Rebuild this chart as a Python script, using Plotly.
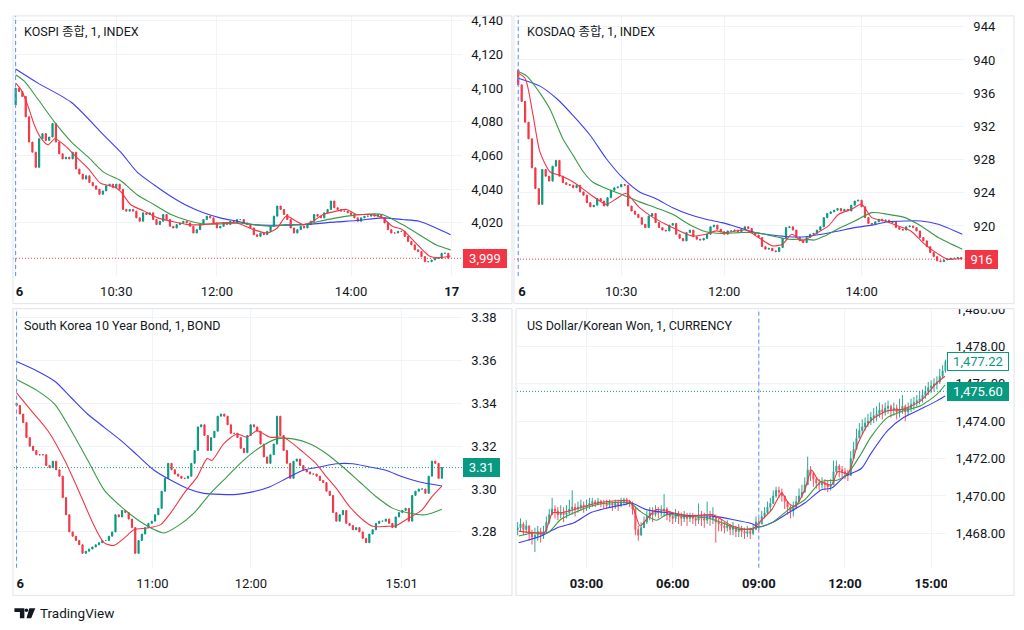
import plotly.graph_objects as go

W, H = 1024, 630
TXT = '#131722'
GRID = '#f0f3fa'
BORDER = '#e0e3eb'
UP = '#089981'
DOWN = '#f23645'
MA_FAST = '#f23645'
MA_MID = '#3a9a45'
MA_SLOW = '#3d3df5'
FONT = "Roboto, 'Noto Sans CJK KR', sans-serif"

# ---------------- KOSPI (3-minute bars, minutes after 09:00) ----------------
kospi_title = "KOSPI 종합, 1, INDEX"
kospi_bar_min = 3
kospi_first_open = 4090
kospi_close = [4100, 4098, 4095, 4083, 4068, 4062, 4053, 4070, 4073, 4069,
               4071, 4079, 4068, 4061, 4058, 4059, 4058, 4062, 4052, 4049,
               4046, 4048, 4044, 4042, 4040, 4037, 4039, 4042, 4043, 4041,
               4043, 4040, 4028, 4027, 4028, 4027, 4023, 4021, 4026, 4025,
               4026, 4022, 4019, 4021, 4025, 4022, 4018, 4017, 4019, 4020,
               4021, 4020, 4018, 4014, 4016, 4019, 4022, 4024, 4023, 4020,
               4017, 4018, 4020, 4019, 4021, 4020, 4022, 4022, 4020, 4019,
               4017, 4013, 4012, 4014, 4013, 4015, 4018, 4024, 4030, 4028,
               4025, 4022, 4017, 4014, 4016, 4018, 4017, 4019, 4021, 4025,
               4024, 4023, 4026, 4028, 4033, 4029, 4028, 4027, 4027, 4026,
               4025, 4023, 4021, 4023, 4024, 4024, 4025, 4024, 4025, 4023,
               4020, 4016, 4014, 4014, 4015, 4015, 4012, 4009, 4007, 4004,
               4003, 4000, 3997, 3997, 3998, 3999, 3999, 4002, 4002, 3999]
kospi_fast_t = [0, 5, 11, 17, 23, 29, 35, 44, 53, 65, 76, 88, 94, 103, 115, 127, 139, 154, 168, 183,
                198, 213, 225, 234, 242, 251, 257, 266, 275, 287, 296, 305, 317, 328, 337, 346, 358, 370, 379, 389]
kospi_fast = [4103, 4099, 4089.5, 4077.7, 4070, 4066.4, 4070, 4066, 4060, 4052.3,
              4043.5, 4041.5, 4038.6, 4030.8, 4027, 4023, 4021, 4019, 4019, 4020,
              4020, 4016, 4014, 4017, 4024, 4021, 4019, 4021, 4025, 4027,
              4028, 4025, 4025, 4023, 4018, 4016, 4008, 4000.4, 3999.4, 4000.4]
kospi_mid_t = [0, 8, 20, 35, 50, 65, 79, 94, 109, 124, 139, 154, 168, 183, 198, 213, 228, 242, 257, 272,
               287, 302, 316, 328, 346, 361, 376, 389]
kospi_mid = [4108, 4104, 4093.4, 4079.7, 4068, 4059, 4050, 4045, 4036.6, 4030.8,
             4025, 4021.4, 4019.4, 4019.4, 4020, 4019, 4018, 4019, 4019, 4021,
             4023, 4024.5, 4025.3, 4025, 4019, 4013, 4007, 4004]
kospi_slow_t = [0, 20, 50, 79, 94, 109, 124, 139, 154, 168, 183, 198, 213, 228, 257, 287, 305, 328, 346, 361, 376, 389]
kospi_slow = [4111.4, 4103, 4091.5, 4072, 4062, 4050, 4042.5, 4035.7, 4030, 4026, 4023,
              4021, 4019, 4018.6, 4019, 4020.6, 4021.4, 4023, 4022, 4021, 4017, 4013]
kospi_xtick_vals = [0, 90, 180, 300, 390]
kospi_xtick_text = ['<b>16</b>', '10:30', '12:00', '14:00', '<b>17</b>']
kospi_ytick_vals = [4020, 4040, 4060, 4080, 4100, 4120, 4140]
kospi_last = 3999
kospi_last_text = '3,999'

# ---------------- KOSDAQ ----------------
kosdaq_title = "KOSDAQ 종합, 1, INDEX"
kosdaq_bar_min = 3
kosdaq_first_open = 938.8
kosdaq_close = [937.0, 935.0, 932.5, 930.5, 927.0, 924.5, 922.6, 926.8, 926.0, 925.4,
                927.2, 927.9, 926.0, 925.2, 925.0, 924.9, 924.6, 924.9, 924.1, 923.7,
                922.8, 922.3, 922.5, 923.3, 923.0, 922.4, 923.4, 924.3, 924.6, 924.7,
                925.0, 924.9, 922.4, 921.8, 921.4, 921.0, 920.2, 919.8, 921.2, 921.5,
                920.4, 919.8, 919.5, 919.4, 920.1, 920.3, 919.0, 918.5, 918.2, 919.2,
                919.5, 918.7, 918.4, 918.3, 918.5, 919.0, 919.9, 920.1, 919.6, 919.3,
                919.0, 919.4, 919.4, 919.5, 919.3, 919.6, 919.9, 919.7, 919.2, 918.9,
                918.6, 917.5, 917.2, 917.3, 917.0, 916.9, 917.4, 918.5, 919.8, 919.9,
                919.5, 918.6, 918.2, 918.0, 918.6, 919.0, 919.1, 919.5, 919.9, 921.0,
                921.5, 921.7, 921.9, 922.1, 921.8, 922.0, 921.8, 922.5, 923.0, 923.1,
                922.3, 921.0, 920.3, 920.2, 920.5, 920.8, 920.6, 920.7, 920.4, 920.5,
                919.8, 919.6, 919.5, 919.9, 920.0, 919.8, 919.4, 918.6, 918.2, 917.5,
                916.8, 916.3, 915.8, 915.7, 915.9, 916.0, 916.1, 916.1, 916.2, 916.0]
kosdaq_fast_t = [0, 6, 13, 19, 28, 36, 48, 60, 68, 77, 86, 94, 106, 118, 129, 141, 152, 164, 173, 181,
                 199, 210, 222, 231, 239, 248, 259, 271, 280, 291, 300, 309, 320, 332, 343, 355, 367, 375, 388]
kosdaq_fast = [938.4, 937.8, 933.3, 928.9, 926.5, 926.1, 925.3, 924.1, 923.3, 922.6,
               923.3, 923.9, 922.2, 921.0, 920.2, 919.4, 918.8, 919.0, 919.4, 919.2,
               919.5, 918.6, 917.6, 917.8, 919.0, 918.2, 919.0, 920.0, 921.4, 922.0,
               922.6, 921.0, 920.6, 920.0, 919.4, 917.8, 916.6, 916.0, 916.1]
kosdaq_mid_t = [0, 8, 19, 28, 39, 48, 57, 65, 77, 92, 106, 120, 135, 149, 164, 178, 193, 207, 222, 236,
                251, 259, 268, 280, 294, 309, 323, 338, 352, 367, 388]
kosdaq_mid = [938.6, 938.0, 936.0, 934.0, 930.5, 928.5, 926.5, 925.3, 924.5, 923.7,
              922.9, 922.2, 921.4, 920.2, 919.3, 919.1, 919.2, 919.2, 918.8, 918.4,
              918.4, 918.3, 918.8, 919.7, 920.6, 921.6, 921.4, 921.0, 920.0, 918.6, 917.2]
kosdaq_slow_t = [0, 19, 34, 48, 63, 77, 92, 106, 120, 135, 149, 164, 178, 193, 207, 222, 236, 251, 265, 280,
                 294, 309, 323, 338, 352, 367, 388]
kosdaq_slow = [937.8, 936.85, 935.3, 933.3, 930.9, 928.1, 925.7, 924.1, 923.3, 922.2,
               921.4, 920.8, 920.4, 919.8, 919.2, 918.9, 918.7, 918.7, 919.0, 919.4,
               919.8, 920.1, 920.5, 920.6, 920.6, 920.2, 919.0]
kosdaq_xtick_vals = [0, 90, 180, 300]
kosdaq_xtick_text = ['<b>16</b>', '10:30', '12:00', '14:00']
kosdaq_ytick_vals = [920, 924, 928, 932, 936, 940, 944]
kosdaq_last = 916
kosdaq_last_text = '916'

# ---------------- South Korea 10Y bond (bar index) ----------------
bond_title = "South Korea 10 Year Bond, 1, BOND"
bond_first_open = 3.340
bond_close = [3.339, 3.335, 3.331, 3.324, 3.320, 3.318, 3.316, 3.316, 3.316, 3.311,
              3.310, 3.313, 3.309, 3.306, 3.296, 3.288, 3.280, 3.278, 3.276, 3.274,
              3.270, 3.271, 3.272, 3.273, 3.274, 3.275, 3.276, 3.276, 3.278, 3.280,
              3.288, 3.287, 3.290, 3.289, 3.286, 3.282, 3.270, 3.276, 3.279, 3.282,
              3.284, 3.285, 3.288, 3.291, 3.299, 3.305, 3.312, 3.309, 3.307, 3.306,
              3.305, 3.305, 3.306, 3.312, 3.318, 3.329, 3.330, 3.325, 3.318, 3.324,
              3.327, 3.334, 3.335, 3.334, 3.330, 3.326, 3.326, 3.324, 3.319, 3.317,
              3.325, 3.330, 3.329, 3.327, 3.321, 3.315, 3.312, 3.316, 3.321, 3.334,
              3.325, 3.318, 3.312, 3.305, 3.313, 3.314, 3.311, 3.309, 3.308, 3.307,
              3.307, 3.306, 3.304, 3.303, 3.299, 3.297, 3.289, 3.285, 3.288, 3.290,
              3.284, 3.283, 3.281, 3.282, 3.280, 3.277, 3.275, 3.279, 3.281, 3.284,
              3.285, 3.285, 3.286, 3.284, 3.282, 3.287, 3.289, 3.290, 3.291, 3.285,
              3.297, 3.299, 3.300, 3.300, 3.298, 3.306, 3.313, 3.312, 3.305, 3.310]
bond_fast_i = [0, 4.5, 9.5, 14.6, 19.6, 23.6, 26.6, 29.6, 32.7, 35.7, 39.7, 43.7, 46.7, 50.8, 54.8, 57.8, 59.3,
               62.8, 66.8, 69.8, 72.9, 76.9, 80.9, 83.9, 86.9, 90.9, 94, 97, 101, 105, 108, 112, 115, 119, 123, 126, 129]
bond_fast = [3.3449, 3.3365, 3.3272, 3.3134, 3.2965, 3.2826, 3.2749, 3.2737, 3.2772, 3.2811,
             3.2818, 3.2834, 3.2888, 3.298, 3.3057, 3.3142, 3.3134, 3.3211, 3.3257, 3.3242,
             3.3272, 3.3242, 3.3242, 3.3211, 3.3172, 3.3118, 3.3057, 3.3003, 3.2918, 3.2857,
             3.2826, 3.2826, 3.2829, 3.2865, 3.2903, 3.2965, 3.3014]
bond_mid_i = [0, 6.5, 11.6, 16.6, 21.6, 26.6, 31.7, 36.7, 41.7, 44.7, 48.7, 53.8, 58.8, 63.8, 68.8, 73.9,
              78.9, 83.9, 88.9, 94, 99, 104, 109, 114, 119, 124, 129]
bond_mid = [3.3511, 3.3457, 3.3395, 3.3272, 3.3134, 3.2995, 3.2918, 3.2857, 3.2811, 3.2795,
            3.2826, 3.2888, 3.298, 3.3057, 3.3134, 3.3195, 3.3234, 3.3234, 3.3211, 3.3165,
            3.3103, 3.3034, 3.2965, 3.2911, 3.2888, 3.288, 3.2906]
bond_slow_i = [0, 6.5, 11.6, 16.6, 21.6, 26.6, 31.7, 36.7, 41.7, 46.7, 51.8, 56.8, 61.8, 66.8, 71.9, 76.9,
               81.9, 86.9, 92, 97, 102, 107, 112, 117, 122, 129]
bond_slow = [3.3595, 3.3549, 3.3503, 3.3426, 3.3349, 3.3288, 3.3226, 3.3157, 3.3088, 3.3042,
             3.3003, 3.298, 3.2975, 3.2975, 3.2988, 3.3011, 3.305, 3.3088, 3.3103, 3.3118,
             3.3118, 3.3103, 3.3088, 3.3057, 3.3034, 3.3014]
bond_xtick_vals = [0, 41.2, 71.1, 116.8]
bond_xtick_text = ['<b>16</b>', '11:00', '12:00', '15:01']
bond_ytick_vals = [3.28, 3.30, 3.32, 3.34, 3.36, 3.38]
bond_last = 3.31
bond_last_text = '3.31'

# ---------------- USD/KRW (6-minute bars, minutes after 00:00) ----------------
usd_title = "US Dollar/Korean Won, 1, CURRENCY"
usd_start_min = 36
usd_bar_min = 6
usd_first_open = 1468.2
usd_close = [1468.3, 1468.5, 1468.2, 1468.4, 1468.0, 1467.8, 1467.9, 1468.1, 1467.9, 1468.1,
             1468.6, 1469.0, 1469.3, 1469.2, 1469.0, 1469.1, 1469.0, 1469.1, 1469.3, 1469.4,
             1469.3, 1469.4, 1469.5, 1469.4, 1469.5, 1469.6, 1469.7, 1469.6, 1469.7, 1469.6,
             1469.6, 1469.5, 1469.6, 1469.5, 1469.6, 1469.5, 1469.7, 1469.8, 1469.7, 1469.6,
             1469.3, 1468.2, 1467.9, 1468.3, 1468.6, 1468.9, 1469.1, 1469.0, 1469.2, 1469.1,
             1469.2, 1469.3, 1469.0, 1468.9, 1468.8, 1469.0, 1468.9, 1468.8, 1468.9, 1468.8,
             1468.9, 1468.8, 1468.7, 1468.9, 1468.8, 1468.7, 1468.9, 1468.8, 1468.9, 1468.6,
             1468.5, 1468.4, 1468.3, 1468.4, 1468.2, 1468.3, 1468.1, 1468.2, 1468.1, 1468.0,
             1468.1, 1468.0, 1468.2, 1468.6, 1468.5, 1468.9, 1469.1, 1469.4, 1469.6, 1470.0,
             1470.3, 1470.2, 1470.0, 1469.7, 1469.4, 1469.2, 1469.4, 1469.7, 1470.0, 1470.2,
             1470.6, 1471.4, 1471.2, 1470.9, 1470.7, 1470.6, 1470.7, 1470.6, 1470.5, 1470.6,
             1471.3, 1471.6, 1471.4, 1471.3, 1471.2, 1471.1, 1472.0, 1472.5, 1473.1, 1473.5,
             1473.7, 1473.9, 1474.0, 1474.2, 1474.3, 1474.4, 1474.6, 1474.5, 1474.7, 1474.8,
             1474.6, 1474.7, 1474.5, 1474.6, 1474.8, 1474.5, 1474.7, 1474.9, 1475.0, 1475.1,
             1475.2, 1475.4, 1475.6, 1475.8, 1475.9, 1476.0, 1476.1, 1476.4, 1476.7, 1477.2]
usd_high = [1468.6, 1468.8, 1468.6, 1468.7, 1468.4, 1468.2, 1468.3, 1468.4, 1468.3, 1468.4,
            1468.9, 1469.3, 1469.9, 1469.5, 1469.4, 1469.5, 1469.4, 1469.5, 1469.8, 1470.3,
            1469.6, 1469.7, 1469.8, 1469.7, 1469.8, 1469.9, 1469.9, 1469.8, 1469.9, 1469.8,
            1469.8, 1469.8, 1469.8, 1469.7, 1469.8, 1469.8, 1469.9, 1469.9, 1469.9, 1469.8,
            1469.7, 1469.4, 1468.4, 1468.6, 1468.9, 1469.2, 1469.4, 1469.4, 1469.5, 1469.4,
            1469.5, 1470.1, 1469.4, 1469.2, 1469.1, 1469.3, 1469.2, 1469.1, 1469.2, 1469.1,
            1469.1, 1469.1, 1469.0, 1469.6, 1469.2, 1469.1, 1469.7, 1469.2, 1469.4, 1469.0,
            1468.8, 1468.7, 1468.6, 1468.7, 1468.5, 1468.6, 1468.4, 1468.5, 1468.4, 1468.3,
            1468.4, 1468.3, 1468.5, 1468.9, 1468.8, 1469.2, 1469.4, 1469.7, 1469.9, 1470.3,
            1470.5, 1470.5, 1470.4, 1470.0, 1469.7, 1469.5, 1469.7, 1470.0, 1470.4, 1470.6,
            1471.0, 1472.1, 1471.6, 1471.3, 1471.0, 1470.9, 1471.0, 1470.9, 1470.8, 1470.9,
            1471.9, 1471.9, 1471.7, 1471.6, 1471.5, 1471.4, 1472.4, 1472.9, 1473.6, 1473.9,
            1474.1, 1474.2, 1474.4, 1474.5, 1474.7, 1474.8, 1475.0, 1474.9, 1475.0, 1475.1,
            1474.9, 1475.0, 1474.9, 1475.2, 1475.4, 1474.9, 1475.0, 1475.2, 1475.3, 1475.4,
            1475.6, 1475.7, 1475.9, 1476.1, 1476.2, 1476.3, 1476.4, 1476.8, 1477.0, 1477.3]
usd_low = [1467.9, 1468.1, 1467.9, 1468.0, 1467.6, 1467.4, 1467.0, 1467.6, 1467.5, 1467.7,
           1468.0, 1468.5, 1469.0, 1468.8, 1468.7, 1468.8, 1468.6, 1468.8, 1469.0, 1469.0,
           1468.9, 1469.1, 1469.2, 1469.1, 1469.2, 1469.3, 1469.4, 1469.4, 1469.5, 1469.4,
           1469.3, 1469.3, 1469.4, 1469.2, 1469.3, 1469.2, 1469.4, 1469.5, 1469.5, 1469.4,
           1469.0, 1467.9, 1467.6, 1467.9, 1468.3, 1468.5, 1468.7, 1468.6, 1468.9, 1468.8,
           1468.9, 1468.9, 1468.7, 1468.6, 1468.5, 1468.6, 1468.5, 1468.4, 1468.6, 1468.4,
           1468.6, 1468.5, 1468.4, 1468.5, 1468.4, 1468.3, 1468.5, 1468.4, 1468.5, 1467.5,
           1468.1, 1468.1, 1468.0, 1468.1, 1467.9, 1467.9, 1467.8, 1467.8, 1467.8, 1467.7,
           1467.8, 1467.7, 1467.9, 1468.2, 1468.2, 1468.5, 1468.8, 1469.0, 1469.2, 1469.6,
           1469.9, 1469.9, 1469.7, 1469.3, 1469.0, 1468.8, 1468.9, 1469.3, 1469.7, 1469.9,
           1470.2, 1470.9, 1470.8, 1470.5, 1470.4, 1470.3, 1470.4, 1470.3, 1470.2, 1470.3,
           1470.9, 1471.2, 1471.0, 1471.0, 1470.9, 1470.8, 1471.4, 1472.0, 1472.7, 1473.1,
           1473.3, 1473.5, 1473.7, 1473.8, 1473.9, 1474.0, 1474.2, 1474.1, 1474.3, 1474.4,
           1474.2, 1474.3, 1474.1, 1474.2, 1474.4, 1474.0, 1474.3, 1474.5, 1474.6, 1474.8,
           1474.9, 1475.0, 1475.2, 1475.4, 1475.5, 1475.6, 1475.7, 1476.0, 1476.3, 1476.6]
usd_fast_t = [38, 71, 92, 109, 126, 154, 188, 223, 271, 281, 292, 305, 326, 361, 395, 443, 485, 526, 540, 567,
              588, 602, 616, 636, 650, 664, 692, 705, 726, 747, 774, 809, 843, 878, 912, 929]
usd_fast = [1468.12, 1468.03, 1468.03, 1469.1, 1469.1, 1469.27, 1469.53, 1469.7, 1469.7, 1469.1,
            1468.39, 1468.74, 1469.27, 1469.1, 1468.92, 1469.0, 1468.39, 1468.21, 1468.56, 1469.27,
            1470.15, 1469.62, 1469.45, 1470.33, 1471.39, 1470.86, 1470.6, 1471.3, 1471.21, 1472.8,
            1474.03, 1474.56, 1474.65, 1475.09, 1476.06, 1476.41]
usd_mid_t = [38, 71, 99, 126, 154, 188, 223, 271, 292, 326, 347, 381, 430, 464, 499, 533, 567, 602, 636, 671,
             705, 726, 754, 774, 809, 843, 878, 912, 929]
usd_mid = [1467.86, 1468.03, 1468.03, 1468.74, 1469.1, 1469.45, 1469.62, 1469.62, 1469.18, 1468.7,
           1469.0, 1468.92, 1468.83, 1468.56, 1468.21, 1468.3, 1468.56, 1469.27, 1469.8, 1470.77,
           1470.86, 1471.21, 1472.27, 1473.15, 1474.21, 1474.56, 1474.83, 1475.44, 1475.94]
usd_slow_t = [38, 85, 119, 154, 188, 223, 257, 274, 305, 347, 395, 443, 485, 526, 540, 567, 602, 636, 671, 692,
              719, 754, 774, 809, 843, 878, 912, 929]
usd_slow = [1467.5, 1467.86, 1468.3, 1468.56, 1469.1, 1469.36, 1469.53, 1469.62, 1469.27, 1469.1,
            1468.95, 1468.92, 1468.74, 1468.51, 1468.34, 1468.56, 1469.1, 1469.62, 1470.33, 1470.42,
            1471.03, 1471.47, 1472.27, 1473.5, 1474.21, 1474.65, 1475.09, 1475.35]
usd_xtick_vals = [180, 360, 540, 720, 900]
usd_xtick_text = ['<b>03:00</b>', '<b>06:00</b>', '<b>09:00</b>', '<b>12:00</b>', '<b>15:00</b>']
usd_ytick_vals = [1468, 1470, 1472, 1474, 1476, 1478, 1480]
usd_session_open = 540
usd_last = 1475.60
usd_last_text = '1,475.60'
usd_bid = 1477.22
usd_bid_text = '1,477.22'


def px_x(x):
    return x / W


def px_y(y):
    return 1 - y / H


def ohlc(first_open, close, high=None, low=None):
    o = [first_open] + close[:-1]
    if high is None:
        h = [max(a, b) for a, b in zip(o, close)]
        l = [min(a, b) for a, b in zip(o, close)]
    else:
        h = [max(a, b, c) for a, b, c in zip(high, o, close)]
        l = [min(a, b, c) for a, b, c in zip(low, o, close)]
    return o, h, l


fig = go.Figure()


def add_panel(n, x, first_open, close, mas, high=None, low=None, opacity=1.0):
    o, h, l = ohlc(first_open, close, high, low)
    xa = 'x' if n == 1 else f'x{n}'
    ya = 'y' if n == 1 else f'y{n}'
    fig.add_trace(go.Candlestick(
        x=x, open=o, high=h, low=l, close=close, xaxis=xa, yaxis=ya,
        increasing=dict(line=dict(color=UP, width=1), fillcolor=UP),
        decreasing=dict(line=dict(color=DOWN, width=1), fillcolor=DOWN),
        opacity=opacity, hoverinfo='skip', showlegend=False))
    for (tx, vals, col) in mas:
        fig.add_trace(go.Scatter(
            x=tx, y=vals, mode='lines', xaxis=xa, yaxis=ya,
            line=dict(color=col, width=1.1, shape='spline', smoothing=0.7),
            hoverinfo='skip', showlegend=False))


kospi_x = [i * kospi_bar_min for i in range(len(kospi_close))]
kosdaq_x = [i * kosdaq_bar_min for i in range(len(kosdaq_close))]
bond_x = list(range(len(bond_close)))
usd_x = [usd_start_min + i * usd_bar_min for i in range(len(usd_close))]

add_panel(1, kospi_x, kospi_first_open, kospi_close,
          [(kospi_slow_t, kospi_slow, MA_SLOW), (kospi_mid_t, kospi_mid, MA_MID), (kospi_fast_t, kospi_fast, MA_FAST)])
add_panel(2, kosdaq_x, kosdaq_first_open, kosdaq_close,
          [(kosdaq_slow_t, kosdaq_slow, MA_SLOW), (kosdaq_mid_t, kosdaq_mid, MA_MID), (kosdaq_fast_t, kosdaq_fast, MA_FAST)])
add_panel(3, bond_x, bond_first_open, bond_close,
          [(bond_slow_i, bond_slow, MA_SLOW), (bond_mid_i, bond_mid, MA_MID), (bond_fast_i, bond_fast, MA_FAST)])
add_panel(4, usd_x, usd_first_open, usd_close,
          [(usd_slow_t, usd_slow, MA_SLOW), (usd_mid_t, usd_mid, MA_MID), (usd_fast_t, usd_fast, MA_FAST)],
          usd_high, usd_low, opacity=0.85)

tickfont = dict(family=FONT, size=13, color=TXT)


def xaxis(dom, anchor, rng, vals, text):
    return dict(domain=[px_x(dom[0]), px_x(dom[1])], anchor=anchor, range=rng,
                tickvals=vals, ticktext=text, showgrid=True, gridcolor=GRID, gridwidth=1,
                zeroline=False, showline=False, ticks='', tickfont=tickfont,
                rangeslider=dict(visible=False), fixedrange=True, ticklabelstandoff=6)


def yaxis(dom, anchor, rng, vals, fmt):
    return dict(domain=[px_y(dom[1]), px_y(dom[0])], anchor=anchor, range=rng, side='right',
                tickvals=vals, tickformat=fmt, showgrid=True, gridcolor=GRID, gridwidth=1,
                zeroline=False, showline=False, ticks='', tickfont=tickfont,
                fixedrange=True, ticklabelstandoff=8)


fig.update_layout(
    width=W, height=H, margin=dict(l=0, r=0, t=0, b=0),
    paper_bgcolor='white', plot_bgcolor='white', showlegend=False,
    font=dict(family=FONT, color=TXT), boxgap=0.5,
    xaxis=xaxis((8, 460), 'y', [-2.4, 399.5], kospi_xtick_vals, kospi_xtick_text),
    yaxis=yaxis((9, 272), 'x', [3988.5, 4142.9], kospi_ytick_vals, ',d'),
    xaxis2=xaxis((512, 965), 'y2', [-3.7, 389.8], kosdaq_xtick_vals, kosdaq_xtick_text),
    yaxis2=yaxis((9, 272), 'x2', [913.97, 945.31], kosdaq_ytick_vals, 'd'),
    xaxis3=xaxis((9, 460), 'y3', [-0.8, 135.2], bond_xtick_vals, bond_xtick_text),
    yaxis3=yaxis((305, 567), 'x3', [3.2633, 3.3842], bond_ytick_vals, '.2f'),
    xaxis4=xaxis((515, 947), 'y4', [34.6, 932], usd_xtick_vals, usd_xtick_text),
    yaxis4=yaxis((305, 567), 'x4', [1466.16, 1480.03], usd_ytick_vals, ',.2f'),
)

shapes = []
# session start dashed lines
for xr, yr, xv in [('x', 'y', 0), ('x2', 'y2', 0), ('x3', 'y3', 0), ('x4', 'y4', usd_session_open)]:
    shapes.append(dict(type='line', xref=xr, yref=f'{yr} domain', x0=xv, x1=xv, y0=0, y1=1,
                       line=dict(color='#5b8cf5', width=1, dash='4px,3px'), layer='above'))
# last price dotted lines
for xr, yr, yv, col in [('x', 'y', kospi_last, DOWN), ('x2', 'y2', kosdaq_last, DOWN),
                        ('x3', 'y3', bond_last, UP), ('x4', 'y4', usd_last, UP)]:
    shapes.append(dict(type='line', xref=f'{xr} domain', yref=yr, x0=0, x1=1, y0=yv, y1=yv,
                       line=dict(color=col, width=1, dash='1px,2px'), layer='above'))


def prect(x0, y0, x1, y1, **kw):
    d = dict(type='rect', xref='paper', yref='paper', x0=px_x(x0), x1=px_x(x1), y0=px_y(y1), y1=px_y(y0),
             layer='above')
    d.update(kw)
    return d


# white masks that clip labels at panel edges
for r in [(0, 274, 10.5, 299), (505, 274, 516, 299), (0, 569, 11, 594),
          (947.5, 569, 1013, 594), (948, 296, 1013, 305.5)]:
    shapes.append(prect(*r, fillcolor='white', line=dict(width=0)))
# panel borders
for r in [(8, 9, 510, 300), (512, 9, 1015, 300), (8, 305, 510, 595), (514, 305, 1015, 595)]:
    shapes.append(prect(*r, line=dict(color=BORDER, width=1), fillcolor='rgba(0,0,0,0)'))


# TradingView logo
def ppath(pts):
    s = 'M ' + ' L '.join(f'{px_x(a)},{px_y(b)}' for a, b in pts) + ' Z'
    return dict(type='path', xref='paper', yref='paper', path=s, fillcolor=TXT, line=dict(width=0), layer='above')


shapes.append(ppath([(9.5, 608), (19.5, 608), (19.5, 618), (15, 618), (15, 611.8), (9.5, 611.8)]))
shapes.append(dict(type='circle', xref='paper', yref='paper', x0=px_x(19.8), x1=px_x(23.4),
                   y0=px_y(611.8), y1=px_y(608.2), fillcolor=TXT, line=dict(width=0), layer='above'))
shapes.append(ppath([(24.5, 608), (30.5, 608), (26.3, 618), (21.6, 618)]))
fig.update_layout(shapes=shapes)

ann = []
for x0, y0, t in [(17, 25, kospi_title), (523, 25, kosdaq_title), (17, 322, bond_title), (523, 322, usd_title)]:
    ann.append(dict(xref='paper', yref='paper', x=px_x(x0), y=px_y(y0), xanchor='left', yanchor='middle',
                    text=t, showarrow=False, font=dict(family=FONT, size=12.5, color=TXT)))


def price_label(xr, yr, y, text, bg, fg, w):
    return dict(xref=f'{xr} domain', x=1, xanchor='left', xshift=1, yref=yr, y=y, yanchor='middle',
                text=text, showarrow=False, bgcolor=bg, bordercolor=fg if bg == 'white' else bg,
                borderwidth=1, borderpad=1, width=w, height=15, align='center',
                font=dict(family=FONT, size=13, color=fg))


ann.append(price_label('x', 'y', kospi_last, kospi_last_text, DOWN, 'white', 40))
ann.append(price_label('x2', 'y2', kosdaq_last, kosdaq_last_text, DOWN, 'white', 29))
ann.append(price_label('x3', 'y3', bond_last, bond_last_text, UP, 'white', 33))
ann.append(price_label('x4', 'y4', usd_bid, usd_bid_text, 'white', UP, 58))
ann.append(price_label('x4', 'y4', usd_last, usd_last_text, UP, 'white', 58))
ann.append(dict(xref='paper', yref='paper', x=px_x(33), y=px_y(613), xanchor='left', yanchor='middle',
                text='TradingView', showarrow=False, font=dict(family=FONT, size=13.5, color=TXT)))
fig.update_layout(annotations=ann)

fig.write_html("out.html", config={'displayModeBar': False})
